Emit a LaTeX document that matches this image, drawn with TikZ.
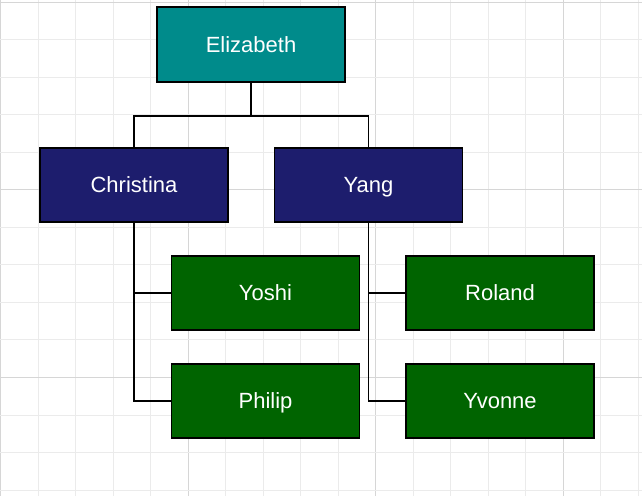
\documentclass[tikz,border=0pt]{standalone}
\usepackage{fontspec}
\setmainfont{Liberation Sans}
\definecolor{minorgrid}{HTML}{EBEBEB}
\definecolor{majorgrid}{HTML}{D6D6D6}
\definecolor{tealbox}{HTML}{008B8B}
\definecolor{navybox}{HTML}{1D1D6D}
\definecolor{greenbox}{HTML}{006400}
\tikzset{
  person/.style={draw=black, line width=1.5pt, rectangle, minimum width=188pt, minimum height=74pt, inner sep=0pt, text=white, font=\fontsize{22}{24}\selectfont, text height=15.8pt, text depth=0pt},
  boss/.style={person, fill=tealbox, minimum height=75pt},
  lead/.style={person, fill=navybox},
  member/.style={person, fill=greenbox},
  link/.style={draw=black, line width=1.4pt}
}
\begin{document}
\begin{tikzpicture}[x=1pt,y=-1pt]
\useasboundingbox (0,0) rectangle (642,496);
\fill[white] (0,0) rectangle (642,496);
% grid
\foreach \i in {0,...,17} {
  \pgfmathsetmacro{\gx}{0.5+37.5*\i}
  \pgfmathtruncatemacro{\m}{mod(\i,5)}
  \ifnum\m=0 \draw[majorgrid, line width=1pt] (\gx,0) -- (\gx,496);
  \else \draw[minorgrid, line width=1pt] (\gx,0) -- (\gx,496); \fi
}
\foreach \j in {0,...,13} {
  \pgfmathsetmacro{\gy}{2+37.55*\j}
  \pgfmathtruncatemacro{\m}{mod(\j,5)}
  \ifnum\m=0 \draw[majorgrid, line width=1pt] (0,\gy) -- (642,\gy);
  \else \draw[minorgrid, line width=1pt] (0,\gy) -- (642,\gy); \fi
}
% nodes
\node[boss] (eliz) at (251,44.5) {Elizabeth};
\node[lead] (chris) at (134,185) {Christina};
\node[lead] (yang) at (368.5,185) {Yang};
\node[member] (yoshi) at (265.5,293) {Yoshi};
\node[member] (philip) at (265.5,401) {Philip};
\node[member] (roland) at (500,293) {Roland};
\node[member] (yvonne) at (500,401) {Yvonne};
% connectors
\coordinate (bus) at (251,116);
\draw[link] (eliz.south) -- (bus);
\draw[link] (bus) -| (chris.north);
\draw[link] (bus) -| (yang.north);
\draw[link] (chris.south) |- (yoshi.west);
\draw[link] (chris.south) |- (philip.west);
\draw[link] (yang.south) |- (roland.west);
\draw[link] (yang.south) |- (yvonne.west);
\end{tikzpicture}
\end{document}
